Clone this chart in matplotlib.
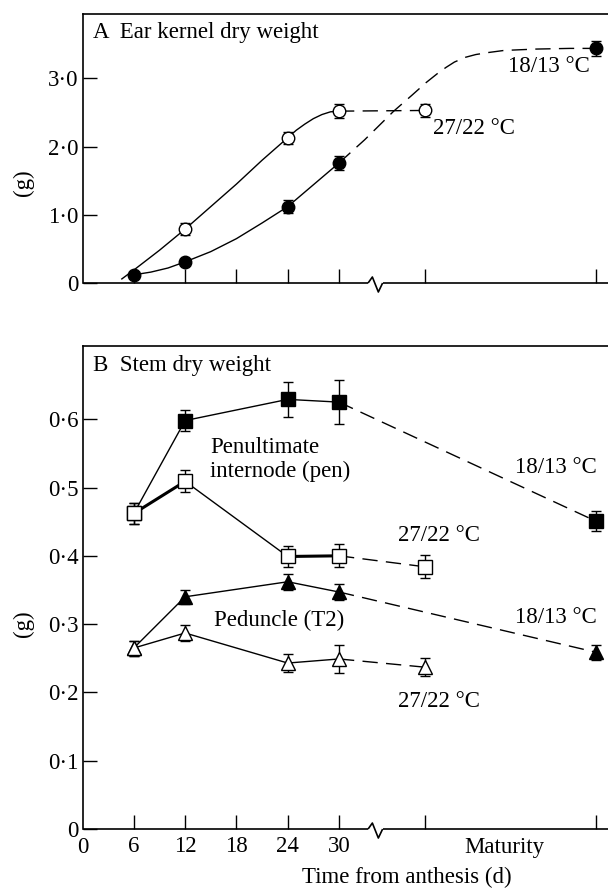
"""Ear kernel and stem dry weight after anthesis, two temperature regimes."""
import matplotlib
matplotlib.use("Agg")
import matplotlib.pyplot as plt

plt.rcParams["font.family"] = ["Liberation Serif", "DejaVu Serif"]
plt.rcParams["font.size"] = 16.5

# x positions: days after anthesis; maturity is drawn past the axis break
MAT27 = 40.0
MAT18 = 60.0
XMAX = 61.46

# ---- panel A: ear kernel dry weight (g) ----
a_days = [6, 12, 24, 30]
a_hot = [0.79, 2.13, 2.52]            # 27/22 at 12, 24, 30
a_hot_err = [0.09, 0.085, 0.10]
a_hot_mat, a_hot_mat_err = 2.53, 0.10
a_cool = [0.12, 0.31, 1.12, 1.76]     # 18/13 at 6, 12, 24, 30
a_cool_err = [0.03, 0.02, 0.10, 0.10]
a_cool_mat, a_cool_mat_err = 3.44, 0.11

# fitted curves
hot_curve_x = [4.6, 6, 9, 12, 15, 18, 21, 24, 25, 26, 27, 28, 29, 30]
hot_curve_y = [0.06, 0.19, 0.48, 0.79, 1.12, 1.45, 1.80, 2.13, 2.24, 2.33, 2.41, 2.47, 2.51, 2.52]
cool_curve_x = [6, 8, 10, 12, 15, 18, 21, 24, 27, 30]
cool_curve_y = [0.12, 0.16, 0.22, 0.31, 0.46, 0.65, 0.88, 1.12, 1.44, 1.76]
cool_dash_x = [30, 33, 36.4, 38.5, 40.2, 41.5, 42.5, 43.5, 44.8, 46, 47.5, 49.3, 53, 57, 60]
cool_dash_y = [1.76, 2.10, 2.52, 2.75, 2.94, 3.07, 3.16, 3.24, 3.31, 3.35, 3.38, 3.41, 3.43, 3.44, 3.44]

# ---- panel B: stem dry weight (g) ----
b_days = [6, 12, 24, 30]
pen_cool = [0.462, 0.598, 0.629, 0.625]
pen_cool_err = [0.015, 0.016, 0.026, 0.032]
pen_cool_mat, pen_cool_mat_err = 0.451, 0.015
pen_hot = [0.462, 0.509, 0.399, 0.400]
pen_hot_err = [0.015, 0.016, 0.015, 0.017]
pen_hot_mat, pen_hot_mat_err = 0.384, 0.017
ped_cool = [0.265, 0.340, 0.362, 0.347]
ped_cool_err = [0.011, 0.010, 0.012, 0.012]
ped_cool_mat, ped_cool_mat_err = 0.259, 0.011
ped_hot = [0.265, 0.287, 0.243, 0.249]
ped_hot_err = [0.011, 0.011, 0.013, 0.020]
ped_hot_mat, ped_hot_mat_err = 0.237, 0.013

tick_pos = [6, 12, 18, 24, 30, MAT27, MAT18]
DASH = (11, 6)


def _points(ax, x, y, err, marker, filled, ms):
    ax.errorbar(x, y, yerr=err, fmt="none", ecolor="black", elinewidth=1.0,
                capsize=3.5, capthick=1.0, zorder=3)
    ax.plot(x, y, linestyle="none", marker=marker, ms=ms, mec="black", mew=1.0,
            mfc="black" if filled else "white", zorder=4)


def _frame(ax, ymax, px_per_unit):
    ax.set_xlim(0, XMAX)
    ax.set_ylim(0, ymax)
    ax.spines["right"].set_visible(False)
    ax.spines["bottom"].set_visible(False)
    for s in ("left", "top"):
        ax.spines[s].set_linewidth(1.2)
    ax.tick_params(direction="in", length=10, width=1.0, pad=4)
    ax.tick_params(axis="y", pad=3)
    ax.set_xticks(tick_pos)
    # broken bottom axis with a zigzag
    z = [(33.4, 0), (33.9, 6), (34.6, -9), (35.1, 0)]
    kw = dict(color="black", lw=1.2, clip_on=False, zorder=5, solid_capstyle="butt")
    ax.plot([0, 33.4], [0, 0], **kw)
    ax.plot([p[0] for p in z], [p[1] / px_per_unit for p in z], **kw)
    ax.plot([35.1, XMAX], [0, 0], **kw)


fig = plt.figure(figsize=(6.08, 8.88), dpi=100)
axA = fig.add_axes([0.1357, 0.6813, 0.8643, 0.3026])
axB = fig.add_axes([0.1357, 0.0664, 0.8643, 0.5443])

# panel A
_frame(axA, 3.94, 68.2)
axA.set_yticks([0, 1, 2, 3])
axA.set_yticklabels(["0", "1·0", "2·0", "3·0"])
axA.set_xticklabels([])
axA.plot(hot_curve_x, hot_curve_y, color="black", lw=1.0, zorder=2)
axA.plot([30, MAT27], [a_hot[-1], a_hot_mat], color="black", lw=1.0, dashes=DASH, zorder=2)
axA.plot(cool_curve_x, cool_curve_y, color="black", lw=1.0, zorder=2)
axA.plot(cool_dash_x, cool_dash_y, color="black", lw=1.0, dashes=DASH, zorder=2)
_points(axA, a_days[1:] + [MAT27], a_hot + [a_hot_mat], a_hot_err + [a_hot_mat_err], "o", False, 9)
_points(axA, a_days + [MAT18], a_cool + [a_cool_mat], a_cool_err + [a_cool_mat_err], "o", True, 9)
axA.text(1.23, 3.67, "A  Ear kernel dry weight", va="center")
axA.text(49.8, 3.17, "18/13 °C", va="center")
axA.text(41.0, 2.27, "27/22 °C", va="center")

# panel B
_frame(axB, 0.7076, 683.0)
axB.set_yticks([0, 0.1, 0.2, 0.3, 0.4, 0.5, 0.6])
axB.set_yticklabels(["0", "0·1", "0·2", "0·3", "0·4", "0·5", "0·6"])
axB.set_xticklabels(["6", "12", "18", "24", "30", "", ""])
axB.tick_params(axis="x", pad=5)

series = [
    (pen_cool, pen_cool_err, MAT18, pen_cool_mat, pen_cool_mat_err, "s", True, 9.5),
    (pen_hot, pen_hot_err, MAT27, pen_hot_mat, pen_hot_mat_err, "s", False, 9.5),
    (ped_cool, ped_cool_err, MAT18, ped_cool_mat, ped_cool_mat_err, "^", True, 9.5),
    (ped_hot, ped_hot_err, MAT27, ped_hot_mat, ped_hot_mat_err, "^", False, 9.5),
]
for vals, errs, mx, mv, me, mk, filled, ms in series:
    axB.plot(b_days, vals, color="black", lw=1.0, zorder=2)
    axB.plot([b_days[-1], mx], [vals[-1], mv], color="black", lw=1.0, dashes=DASH, zorder=2)
    _points(axB, b_days + [mx], vals + [mv], errs + [me], mk, filled, ms)
# heavier segments on the 27/22 internode line
axB.plot(b_days[:2], pen_hot[:2], color="black", lw=2.2, zorder=2)
axB.plot(b_days[2:], pen_hot[2:], color="black", lw=2.2, zorder=2)

axB.text(1.23, 0.679, "B  Stem dry weight", va="center")
axB.text(14.9, 0.558, "Penultimate", va="center")
axB.text(14.9, 0.523, "internode (pen)", va="center")
axB.text(50.6, 0.530, "18/13 °C", va="center")
axB.text(36.9, 0.430, "27/22 °C", va="center")
axB.text(15.4, 0.306, "Peduncle (T2)", va="center")
axB.text(50.6, 0.309, "18/13 °C", va="center")
axB.text(36.9, 0.186, "27/22 °C", va="center")

fig.text(82.5 / 608, 1 - 847 / 888, "0", ha="center", va="center")
fig.text((82.5 + 49.3 * 8.55) / 608, 1 - 847 / 888, "Maturity", ha="center", va="center")
fig.text(407 / 608, 1 - 877 / 888, "Time from anthesis (d)", ha="center", va="center")
fig.text(23 / 608, 1 - 183 / 888, "(g)", rotation=90, ha="center", va="center")
fig.text(23 / 608, 1 - 624 / 888, "(g)", rotation=90, ha="center", va="center")

fig.savefig("out.png", dpi=100)
